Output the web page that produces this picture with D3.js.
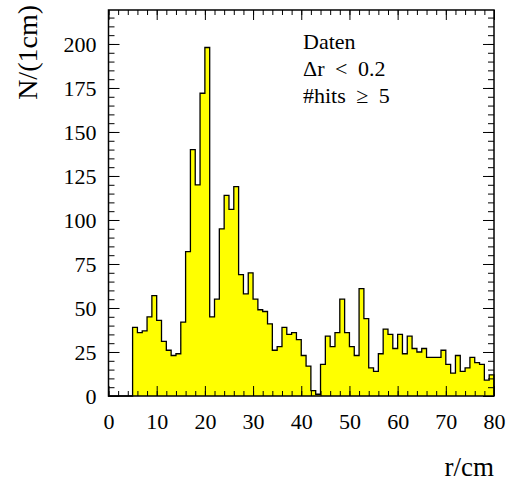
<!DOCTYPE html>
<html>
<head>
<meta charset="utf-8">
<script src="https://cdn.jsdelivr.net/npm/d3@7"></script>
<style>
  body { margin: 0; background: #fff; }
</style>
</head>
<body>
<div class="chart"></div>
<script>
// data: counts per 1 cm bin, r from 0 to 80 cm
const binEdges = d3.range(0, 81, 1);
const counts = [
  0, 0, 0, 0, 0, 39, 36, 37, 45, 57,
  43, 31, 26, 23, 24, 42, 82, 140, 120, 172,
  198, 45, 55, 95, 114, 106, 119, 69, 58, 70,
  55, 49, 48, 41, 26, 28, 39, 35, 36, 32,
  23, 17, 3, 1, 18, 34, 28, 36, 55, 36,
  28, 23, 61, 44, 16, 14, 24, 38, 35, 27,
  35, 24, 34, 27, 25, 27, 22, 22, 22, 26,
  18, 13, 23, 14, 16, 22, 19, 18, 9, 12
];
const xTicks = [0, 10, 20, 30, 40, 50, 60, 70, 80];
const yTicks = [0, 25, 50, 75, 100, 125, 150, 175, 200];
const infoLines = ["Daten", "\u0394r < 0.2", "#hits \u2265 5"];

const fontName = "Liberation Serif";

const svgWidth = 510;
const svgHeight = 484;

const margin = { top: 10, right: 16, bottom: 88, left: 108.5 };
const width = svgWidth - margin.left - margin.right;
const height = svgHeight - margin.top - margin.bottom;

const svg = d3.select(".chart")
  .append("svg")
  .attr("width", svgWidth)
  .attr("height", svgHeight);

const chartGroup = svg.append("g")
  .attr("transform", `translate(${margin.left}, ${margin.top})`);

// scales
const xScale = d3.scaleLinear()
  .domain([0, 80])
  .range([0, width]);

const yScale = d3.scaleLinear()
  .domain([0, 219.3])
  .range([height, 0]);

// step outline of the histogram
const pts = [[xScale(binEdges[0]), yScale(0)]];
counts.forEach((c, i) => {
  pts.push([xScale(binEdges[i]), yScale(c)]);
  pts.push([xScale(binEdges[i + 1]), yScale(c)]);
});
pts.push([xScale(binEdges[binEdges.length - 1]), yScale(0)]);

const line = d3.line();

chartGroup.append("path")
  .attr("d", line(pts) + "Z")
  .attr("fill", "#ffff00")
  .attr("stroke", "none");

chartGroup.append("path")
  .attr("d", line(pts))
  .attr("fill", "none")
  .attr("stroke", "#000")
  .attr("stroke-width", 1.3);

// axes: major + minor ticks, pointing inward, on all four sides
function styleAxis(g) {
  g.select(".domain").remove();
  g.selectAll("line").attr("stroke", "#000").attr("stroke-width", 1);
  g.selectAll("text")
    .attr("fill", "#000")
    .attr("font-family", fontName)
    .attr("font-size", 22);
}

chartGroup.append("g")
  .attr("transform", `translate(0, ${height})`)
  .call(d3.axisBottom(xScale).tickValues(xTicks).tickSize(-10).tickPadding(17))
  .call(styleAxis);

chartGroup.append("g")
  .attr("transform", `translate(0, ${height})`)
  .call(d3.axisBottom(xScale).tickValues(d3.range(0, 81, 2)).tickSize(-5).tickFormat(""))
  .call(styleAxis);

chartGroup.append("g")
  .call(d3.axisTop(xScale).tickValues(xTicks).tickSize(-10).tickFormat(""))
  .call(styleAxis);

chartGroup.append("g")
  .call(d3.axisTop(xScale).tickValues(d3.range(0, 81, 2)).tickSize(-5).tickFormat(""))
  .call(styleAxis);

chartGroup.append("g")
  .call(d3.axisLeft(yScale).tickValues(yTicks).tickSize(-11).tickPadding(12))
  .call(styleAxis);

chartGroup.append("g")
  .call(d3.axisLeft(yScale).tickValues(d3.range(0, 219, 5)).tickSize(-6).tickFormat(""))
  .call(styleAxis);

chartGroup.append("g")
  .attr("transform", `translate(${width}, 0)`)
  .call(d3.axisRight(yScale).tickValues(yTicks).tickSize(-11).tickFormat(""))
  .call(styleAxis);

chartGroup.append("g")
  .attr("transform", `translate(${width}, 0)`)
  .call(d3.axisRight(yScale).tickValues(d3.range(0, 219, 5)).tickSize(-6).tickFormat(""))
  .call(styleAxis);

// frame
chartGroup.append("rect")
  .attr("width", width)
  .attr("height", height)
  .attr("fill", "none")
  .attr("stroke", "#000")
  .attr("stroke-width", 1.5);

// axis titles (a bit larger than the tick labels)
svg.append("text")
  .attr("x", margin.left + width)
  .attr("y", 476)
  .attr("text-anchor", "end")
  .attr("font-family", fontName)
  .attr("font-size", 27)
  .text("r/cm");

svg.append("text")
  .attr("transform", "translate(37, 5) rotate(-90)")
  .attr("text-anchor", "end")
  .attr("font-family", fontName)
  .attr("font-size", 28)
  .text("N/(1cm)");

// info box
svg.append("g")
  .selectAll("text")
  .data(infoLines)
  .enter()
  .append("text")
  .attr("x", 303)
  .attr("y", (d, i) => 49 + i * 27)
  .attr("font-family", fontName)
  .attr("font-size", 22)
  .style("word-spacing", "5px")
  .text(d => d);
</script>
</body>
</html>
